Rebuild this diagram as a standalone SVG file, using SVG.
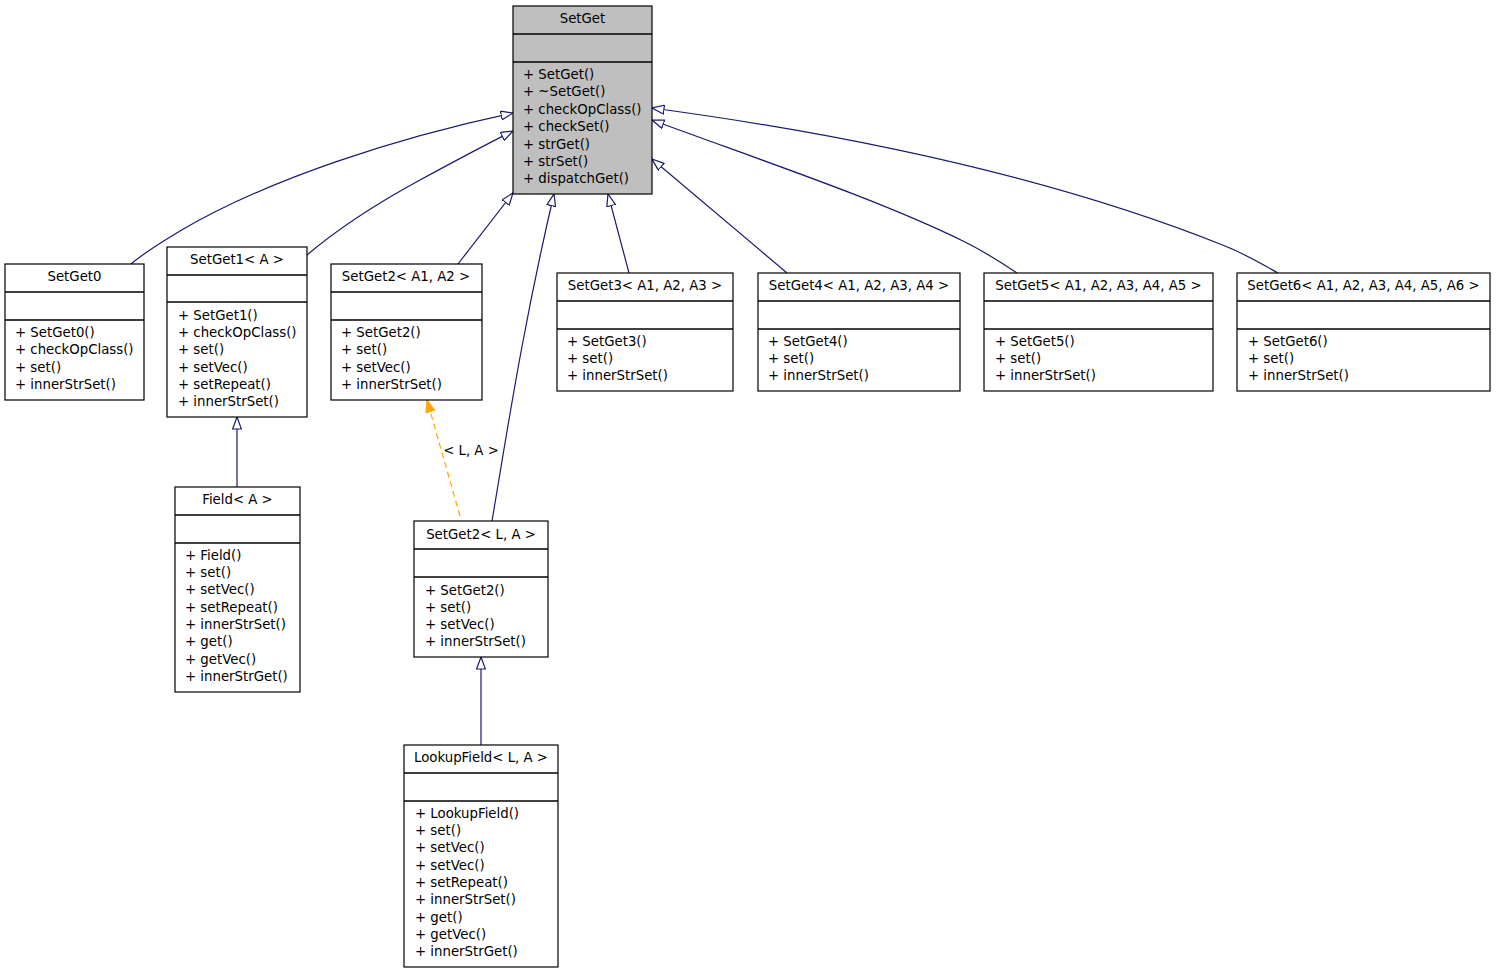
<svg xmlns="http://www.w3.org/2000/svg" width="1496" height="973" viewBox="0 0 1496 973">
<style>
.box{fill:#ffffff;stroke:#000000;stroke-width:1.2}
.root{fill:#bfbfbf;stroke:#000000;stroke-width:1.2}
.sep{stroke:#000000;stroke-width:1.5}
text{font-family:"DejaVu Sans","Liberation Sans",sans-serif;font-size:13.3px;fill:#000000}
.t{text-anchor:middle}
.e{fill:none;stroke:#191970;stroke-width:1.2}
.d{fill:none;stroke:#ffa500;stroke-width:1.2;stroke-dasharray:6,4}
</style>
<defs>
<marker id="inh" viewBox="0 0 13 10" refX="12.5" refY="5" markerWidth="13" markerHeight="10" markerUnits="userSpaceOnUse" orient="auto">
<path d="M0.5,0.6 L12.5,5 L0.5,9.4 Z" fill="#ffffff" stroke="#191970" stroke-width="1.2"/>
</marker>
<marker id="tpl" viewBox="0 0 13 10" refX="12.5" refY="5" markerWidth="13" markerHeight="10" markerUnits="userSpaceOnUse" orient="auto">
<path d="M0.5,0.6 L12.5,5 L0.5,9.4 Z" fill="#ffa500" stroke="#ffa500" stroke-width="1.2"/>
</marker>
</defs>

<g id="connectors">
<path class="e" marker-end="url(#inh)" d="M131,264 C145,252 160,243 180,231 C270,178 400,137 513,113"/>
<path class="e" marker-end="url(#inh)" d="M307,255 C340,227 385,199 420,180 C455,161 485,145 513,131"/>
<path class="e" marker-end="url(#inh)" d="M458,264 L513,193"/>
<path class="e" marker-end="url(#inh)" d="M492,521 C505,445 522,330 554,194"/>
<path class="e" marker-end="url(#inh)" d="M629,273 L608,194"/>
<path class="e" marker-end="url(#inh)" d="M787,273 L652,159"/>
<path class="e" marker-end="url(#inh)" d="M1017,273 C1002,263 985,252 965,242 C880,200 760,160 652,120"/>
<path class="e" marker-end="url(#inh)" d="M1278,273 C1262,264 1245,254 1225,246 C1060,180 860,136 652,108"/>
<path class="e" marker-end="url(#inh)" d="M237,487 L237,417"/>
<path class="e" marker-end="url(#inh)" d="M481,745 L481,657"/>
<path class="d" marker-end="url(#tpl)" d="M460,516 L427,400"/>
<text x="471" y="455" class="t">&lt; L, A &gt;</text>
</g>

<g id="SetGet">
<rect class="root" x="513" y="6" width="139" height="188"/>
<line class="sep" x1="513" y1="34" x2="652" y2="34"/>
<line class="sep" x1="513" y1="62" x2="652" y2="62"/>
<text x="582.5" y="22.5" class="t">SetGet</text>
<text x="523" y="78.5">+ SetGet()</text>
<text x="523" y="96">+ ~SetGet()</text>
<text x="523" y="113.5">+ checkOpClass()</text>
<text x="523" y="131">+ checkSet()</text>
<text x="523" y="148.5">+ strGet()</text>
<text x="523" y="166">+ strSet()</text>
<text x="523" y="183">+ dispatchGet()</text>
</g>

<g id="SetGet0">
<rect class="box" x="5" y="264" width="139" height="136"/>
<line class="sep" x1="5" y1="292" x2="144" y2="292"/>
<line class="sep" x1="5" y1="320" x2="144" y2="320"/>
<text x="74.5" y="280.5" class="t">SetGet0</text>
<text x="15" y="336.5">+ SetGet0()</text>
<text x="15" y="354">+ checkOpClass()</text>
<text x="15" y="371.5">+ set()</text>
<text x="15" y="389">+ innerStrSet()</text>
</g>

<g id="SetGet1">
<rect class="box" x="167" y="247" width="140" height="170"/>
<line class="sep" x1="167" y1="275" x2="307" y2="275"/>
<line class="sep" x1="167" y1="302" x2="307" y2="302"/>
<text x="237" y="263.5" class="t">SetGet1&lt; A &gt;</text>
<text x="178" y="319.5">+ SetGet1()</text>
<text x="178" y="337">+ checkOpClass()</text>
<text x="178" y="354">+ set()</text>
<text x="178" y="371.5">+ setVec()</text>
<text x="178" y="389">+ setRepeat()</text>
<text x="178" y="406">+ innerStrSet()</text>
</g>

<g id="SetGet2_A1_A2">
<rect class="box" x="331" y="264" width="151" height="136"/>
<line class="sep" x1="331" y1="292" x2="482" y2="292"/>
<line class="sep" x1="331" y1="320" x2="482" y2="320"/>
<text x="406" y="280.5" class="t">SetGet2&lt; A1, A2 &gt;</text>
<text x="341" y="336.5">+ SetGet2()</text>
<text x="341" y="354">+ set()</text>
<text x="341" y="371.5">+ setVec()</text>
<text x="341" y="389">+ innerStrSet()</text>
</g>

<g id="Field_A">
<rect class="box" x="175" y="487" width="125" height="205"/>
<line class="sep" x1="175" y1="515" x2="300" y2="515"/>
<line class="sep" x1="175" y1="543" x2="300" y2="543"/>
<text x="237.5" y="503.5" class="t">Field&lt; A &gt;</text>
<text x="185" y="559.5">+ Field()</text>
<text x="185" y="576.5">+ set()</text>
<text x="185" y="594">+ setVec()</text>
<text x="185" y="611.5">+ setRepeat()</text>
<text x="185" y="628.5">+ innerStrSet()</text>
<text x="185" y="646">+ get()</text>
<text x="185" y="663.5">+ getVec()</text>
<text x="185" y="680.5">+ innerStrGet()</text>
</g>

<g id="SetGet2_L_A">
<rect class="box" x="414" y="521" width="134" height="136"/>
<line class="sep" x1="414" y1="549" x2="548" y2="549"/>
<line class="sep" x1="414" y1="577" x2="548" y2="577"/>
<text x="481" y="538.5" class="t">SetGet2&lt; L, A &gt;</text>
<text x="425" y="594.5">+ SetGet2()</text>
<text x="425" y="611.5">+ set()</text>
<text x="425" y="628.5">+ setVec()</text>
<text x="425" y="646">+ innerStrSet()</text>
</g>

<g id="LookupField_L_A">
<rect class="box" x="404" y="745" width="154" height="222"/>
<line class="sep" x1="404" y1="773" x2="558" y2="773"/>
<line class="sep" x1="404" y1="801" x2="558" y2="801"/>
<text x="481" y="761.5" class="t">LookupField&lt; L, A &gt;</text>
<text x="415" y="817.5">+ LookupField()</text>
<text x="415" y="834.5">+ set()</text>
<text x="415" y="852">+ setVec()</text>
<text x="415" y="869.5">+ setVec()</text>
<text x="415" y="886.5">+ setRepeat()</text>
<text x="415" y="904">+ innerStrSet()</text>
<text x="415" y="921.5">+ get()</text>
<text x="415" y="938.5">+ getVec()</text>
<text x="415" y="956">+ innerStrGet()</text>
</g>

<g id="SetGet3">
<rect class="box" x="557" y="273" width="176" height="118"/>
<line class="sep" x1="557" y1="301" x2="733" y2="301"/>
<line class="sep" x1="557" y1="329" x2="733" y2="329"/>
<text x="645" y="289.5" class="t">SetGet3&lt; A1, A2, A3 &gt;</text>
<text x="567" y="345.5">+ SetGet3()</text>
<text x="567" y="362.5">+ set()</text>
<text x="567" y="380">+ innerStrSet()</text>
</g>

<g id="SetGet4">
<rect class="box" x="758" y="273" width="202" height="118"/>
<line class="sep" x1="758" y1="301" x2="960" y2="301"/>
<line class="sep" x1="758" y1="329" x2="960" y2="329"/>
<text x="859" y="289.5" class="t">SetGet4&lt; A1, A2, A3, A4 &gt;</text>
<text x="768" y="345.5">+ SetGet4()</text>
<text x="768" y="362.5">+ set()</text>
<text x="768" y="380">+ innerStrSet()</text>
</g>

<g id="SetGet5">
<rect class="box" x="984" y="273" width="229" height="118"/>
<line class="sep" x1="984" y1="301" x2="1213" y2="301"/>
<line class="sep" x1="984" y1="329" x2="1213" y2="329"/>
<text x="1098.5" y="289.5" class="t">SetGet5&lt; A1, A2, A3, A4, A5 &gt;</text>
<text x="995" y="345.5">+ SetGet5()</text>
<text x="995" y="362.5">+ set()</text>
<text x="995" y="380">+ innerStrSet()</text>
</g>

<g id="SetGet6">
<rect class="box" x="1237" y="273" width="253" height="118"/>
<line class="sep" x1="1237" y1="301" x2="1490" y2="301"/>
<line class="sep" x1="1237" y1="329" x2="1490" y2="329"/>
<text x="1363.5" y="289.5" class="t">SetGet6&lt; A1, A2, A3, A4, A5, A6 &gt;</text>
<text x="1248" y="345.5">+ SetGet6()</text>
<text x="1248" y="362.5">+ set()</text>
<text x="1248" y="380">+ innerStrSet()</text>
</g>
</svg>
